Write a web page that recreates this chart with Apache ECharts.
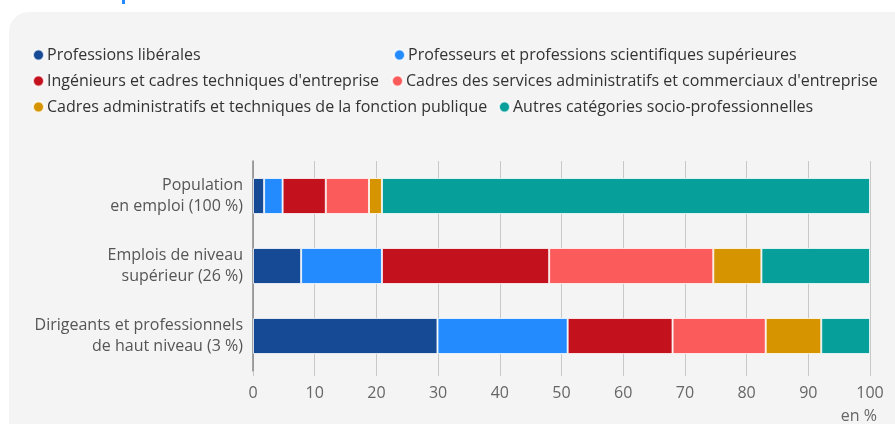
<!DOCTYPE html>
<html><head><meta charset="utf-8">
<script src="https://cdn.jsdelivr.net/npm/echarts@6/dist/echarts.min.js"></script>
<style>html,body{margin:0;padding:0;background:#fff}#c{width:895px;height:424px}</style>
</head><body><div id="c"></div>
<script>
const categories = ["Population\nen emploi (100 %)", "Emplois de niveau\nsupérieur (26 %)", "Dirigeants et professionnels\nde haut niveau (3 %)"];
const seriesNames = ["Professions libérales", "Professeurs et professions scientifiques supérieures", "Ingénieurs et cadres techniques d'entreprise", "Cadres des services administratifs et commerciaux d'entreprise", "Cadres administratifs et techniques de la fonction publique", "Autres catégories socio-professionnelles"];
const colors = ["#164a94", "#248bff", "#c3111e", "#fb5b5b", "#d69500", "#079f9a"];
const liberales = [1.8, 7.8, 29.9];
const professeurs = [3.0, 13.1, 21.1];
const ingenieurs = [7.0, 27.1, 17.0];
const cadresServices = [7.0, 26.6, 15.1];
const cadresPublics = [2.1, 7.8, 9.0];
const autres = [79.1, 17.6, 7.9];
const xTicks = [0, 10, 20, 30, 40, 50, 60, 70, 80, 90, 100];
const values = [liberales, professeurs, ingenieurs, cadresServices, cadresPublics, autres];

const legendPos = [[32, 47], [393, 47], [32, 73], [391, 73], [32, 99], [498, 99]];
const chart = echarts.init(document.getElementById('c'));
const font = "'Open Sans', sans-serif";
chart.setOption({
  backgroundColor: '#fff',
  animation: false,
  graphic: [
    {type: 'rect', z: -10, shape: {x: 9, y: 12, width: 950, height: 500, r: 20}, style: {fill: '#f4f4f4'}},
    {type: 'rect', z: -10, shape: {x: 122, y: 0, width: 3, height: 4}, style: {fill: '#2489ff'}},
    {type: 'text', right: 18, top: 408, style: {text: 'en %', fill: '#666', font: "16px 'Open Sans', sans-serif"}}
  ],
  legend: seriesNames.map((n, i) => ({
    data: [n], left: legendPos[i][0], top: legendPos[i][1], icon: 'circle',
    itemWidth: 11, itemHeight: 11, padding: 0,
    textStyle: {fontFamily: font, fontSize: 16, color: '#333', padding: [0, 0, 0, -2]}
  })),
  grid: {left: 253, right: 25, top: 161, height: 210},
  xAxis: {
    type: 'value', min: 0, max: 100, interval: 10,
    axisLine: {show: false},
    axisTick: {show: true, length: 5, lineStyle: {color: '#c8c8c8'}},
    splitLine: {lineStyle: {color: '#c8c8c8'}},
    axisLabel: {margin: 14, fontFamily: font, fontSize: 16, color: '#666',
      formatter: v => xTicks.includes(v) ? String(v) : ''}
  },
  yAxis: {
    type: 'category', data: categories, inverse: true,
    axisLine: {show: true, lineStyle: {color: '#888', width: 1.5}},
    axisTick: {show: false},
    axisLabel: {margin: 10, fontFamily: font, fontSize: 16, color: '#555', lineHeight: 21, align: 'right'}
  },
  series: seriesNames.map((n, i) => ({
    name: n, type: 'bar', stack: 'total', barWidth: 36, data: values[i],
    itemStyle: {color: colors[i], borderColor: 'rgba(255,255,255,0.75)', borderWidth: 1}
  }))
});
</script></body></html>
